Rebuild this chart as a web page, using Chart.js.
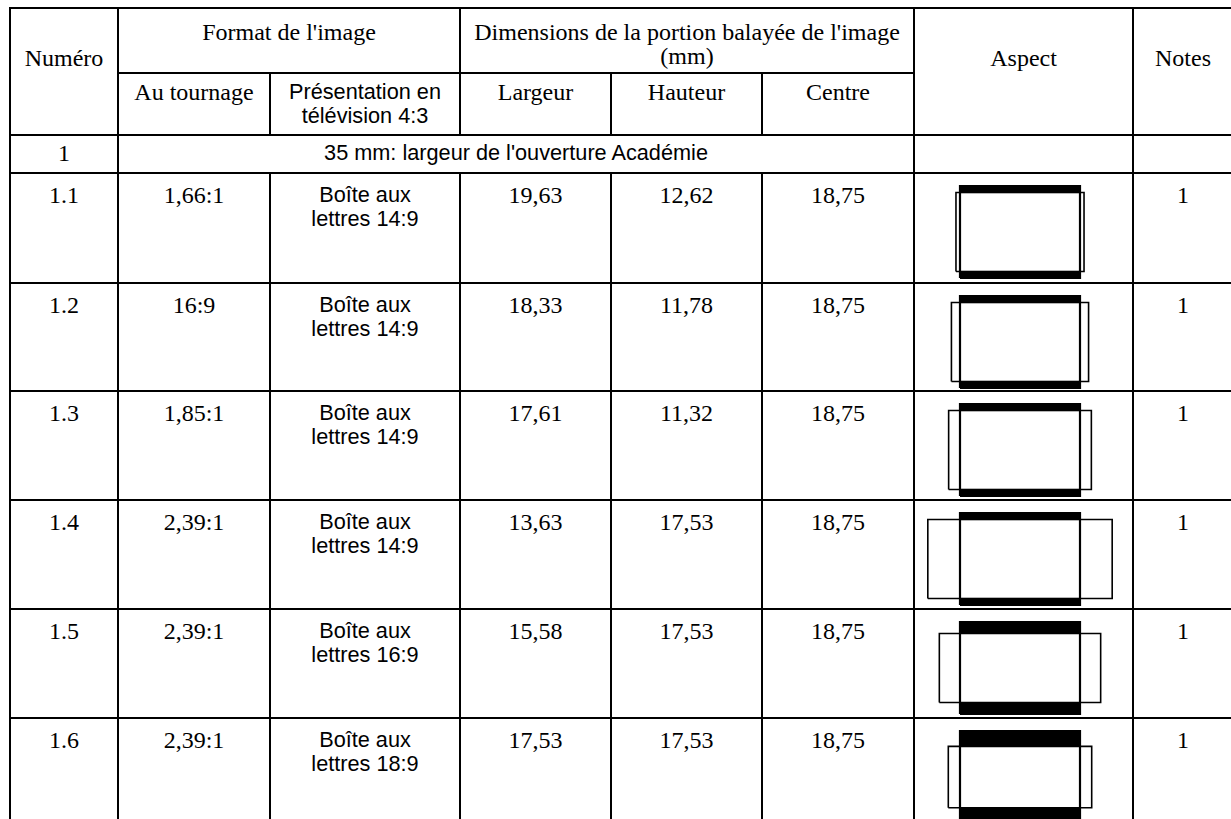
<!DOCTYPE html>
<html>
<head>
<meta charset="utf-8">
<script src="https://cdn.jsdelivr.net/npm/chart.js@4/dist/chart.umd.min.js"></script>
<style>
  body { margin: 0; background: #fff; }
  table {
    position: absolute; left: 9px; top: 7px; width: 1225px;
    border-collapse: collapse; table-layout: fixed;
  }
  td {
    border: 2px solid #000; padding: 0; vertical-align: top; text-align: center;
    font-family: 'Liberation Serif', 'Times New Roman', serif; font-size: 24px;
    line-height: 24px; color: #000; white-space: pre-line; overflow: hidden;
  }
  td.sans { font-family: 'Liberation Sans', Arial, sans-serif; font-size: 21.7px; }
  tr.hA td { padding-top: 11px; }
  tr.hA td.tall { padding-top: 37px; }
  tr.hB td { padding-top: 6px; }
  tr.r1 td { padding-top: 5px; }
  tr.row td { padding-top: 9px; }
  tr.row td.aspect { padding-top: 0; }
  canvas { display: block; }
</style>
</head>
<body>
<table id="tbl">
  <colgroup>
    <col style="width:108px"><col style="width:152px"><col style="width:190px">
    <col style="width:151px"><col style="width:151px"><col style="width:152px">
    <col style="width:219px"><col style="width:100px">
  </colgroup>
  <tbody id="body">
    <tr class="hA" style="height:65px">
      <td class="tall" rowspan="2">Numéro</td>
      <td colspan="2">Format de l'image</td>
      <td colspan="3">Dimensions de la portion balayée de l'image
(mm)</td>
      <td class="tall" rowspan="2">Aspect</td>
      <td class="tall" rowspan="2">Notes</td>
    </tr>
    <tr class="hB" style="height:62px">
      <td>Au tournage</td>
      <td class="sans">Présentation en
télévision 4:3</td>
      <td>Largeur</td>
      <td>Hauteur</td>
      <td>Centre</td>
    </tr>
    <tr class="r1" style="height:38px">
      <td>1</td>
      <td class="sans" colspan="5">35 mm: largeur de l'ouverture Académie</td>
      <td></td>
      <td></td>
    </tr>
  </tbody>
</table>
<script>
const numeros = ['1.1', '1.2', '1.3', '1.4', '1.5', '1.6'];
const tournage = ['1,66:1', '16:9', '1,85:1', '2,39:1', '2,39:1', '2,39:1'];
const tournageRatio = [1.66, 16 / 9, 1.85, 2.39, 2.39, 2.39];
const presentation = ['Boîte aux\nlettres 14:9', 'Boîte aux\nlettres 14:9', 'Boîte aux\nlettres 14:9',
                      'Boîte aux\nlettres 14:9', 'Boîte aux\nlettres 16:9', 'Boîte aux\nlettres 18:9'];
const letterbox = [14, 14, 14, 14, 16, 18];
const largeur = ['19,63', '18,33', '17,61', '13,63', '15,58', '17,53'];
const hauteur = ['12,62', '11,78', '11,32', '17,53', '17,53', '17,53'];
const centre = ['18,75', '18,75', '18,75', '18,75', '18,75', '18,75'];
const notes = ['1', '1', '1', '1', '1', '1'];

const rowHeights = [110, 108, 109, 109, 109, 109];
const aspectW = 217;
const unitX = 30, unitY = 30.67;   // pixels per unit of a 4:3 screen (4 x 3)
const screenTop = 12;              // px from top of cell to top of screen

// Table rows
const tbody = document.getElementById('body');
numeros.forEach((num, i) => {
    tbody.innerHTML += `<tr class="row" style="height:${rowHeights[i]}px">
        <td>${num}</td>
        <td>${tournage[i]}</td>
        <td class="sans">${presentation[i]}</td>
        <td>${largeur[i]}</td>
        <td>${hauteur[i]}</td>
        <td>${centre[i]}</td>
        <td class="aspect"><canvas id="asp${i}" width="${aspectW}" height="${rowHeights[i] - 2}"></canvas></td>
        <td>${notes[i]}</td>
    </tr>`;
});

function rect(x0, y0, x1, y1) {
    return [{x: x0, y: y0}, {x: x1, y: y0}, {x: x1, y: y1}, {x: x0, y: y1}, {x: x0, y: y0}];
}

// Aspect pictograms: 4:3 screen, letterbox bars, full film frame
numeros.forEach((num, i) => {
    const h = 4 * 9 / letterbox[i];      // picture height inside the 4:3 screen
    const w = tournageRatio[i] * h;      // full width of the shot frame
    const H = rowHeights[i] - 2;
    const yMax = (screenTop + 1.5 * unitY) / unitY;
    const line = { showLine: true, pointRadius: 0, borderColor: '#000', fill: false };
    new Chart(document.getElementById('asp' + i), {
        type: 'scatter',
        data: {
            datasets: [
                { ...line, data: rect(-2, -1.5, 2, 1.5), borderWidth: 2.2 },
                { ...line, data: rect(-2, h / 2, 2, 1.5), borderWidth: 1, fill: 'shape', backgroundColor: '#000' },
                { ...line, data: rect(-2, -1.5, 2, -h / 2), borderWidth: 1, fill: 'shape', backgroundColor: '#000' },
                { ...line, data: rect(-w / 2, -h / 2, w / 2, h / 2), borderWidth: 1.6 }
            ]
        },
        options: {
            responsive: false,
            animation: false,
            events: [],
            layout: { padding: 0 },
            plugins: { legend: { display: false }, tooltip: { enabled: false } },
            scales: {
                x: { type: 'linear', display: false, min: -105 / unitX, max: (aspectW - 105) / unitX },
                y: { type: 'linear', display: false, min: yMax - H / unitY, max: yMax }
            }
        }
    });
});
</script>
</body>
</html>
